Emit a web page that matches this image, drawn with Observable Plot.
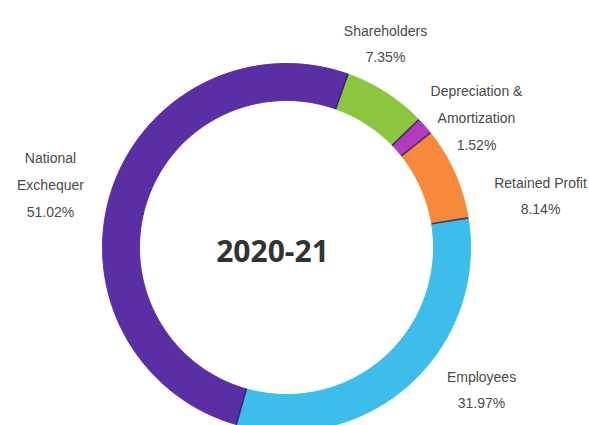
<!DOCTYPE html>
<html>
<head>
<meta charset="utf-8">
<script src="https://cdn.jsdelivr.net/npm/d3@7"></script>
<script src="https://cdn.jsdelivr.net/npm/@observablehq/plot@0.6"></script>
<style>
  html, body { margin: 0; padding: 0; background: #ffffff; }
  #chart svg { display: block; }
</style>
</head>
<body>
<div id="chart"></div>
<script>
// ---- data (clockwise order, starting just right of 12 o'clock) ----
const categories = ["Shareholders", "Depreciation & Amortization", "Retained Profit", "Employees", "National Exchequer"];
const shares = [7.35, 1.52, 8.14, 31.97, 51.02];
const labelLines = [["Shareholders"], ["Depreciation &", "Amortization"], ["Retained Profit"], ["Employees"], ["National", "Exchequer"]];
const centerTitle = "2020-21";

// ---- layout & style ----
const colors = ["#8cc63f", "#b13cbc", "#f7893b", "#3cbdea", "#5a2fa5"];
const W = 589, H = 425;
const cx = 286, cy = 247, R = 184, innerRatio = 147 / 184;
const startDeg = 19.5;
// label block centres in pixels (layout only)
const labelPx = [[385, 40], [476, 114], [540, 192], [481, 386], [50, 181]];
const titlePx = [272, 252];

const rows = categories.map((c, i) => ({cat: c, value: shares[i], lines: labelLines[i]}));

const start = startDeg * Math.PI / 180;
const arcs = d3.pie().sort(null).value(d => d.value).startAngle(start).endAngle(start + 2 * Math.PI)(rows);

// polygon points for each ring slice
const ringPts = [];
for (const a of arcs) {
  const n = Math.max(2, Math.ceil((a.endAngle - a.startAngle) / (Math.PI / 180)) + 1);
  for (let k = 0; k < n; k++) {
    const t = a.startAngle + (a.endAngle - a.startAngle) * k / (n - 1);
    ringPts.push({cat: a.data.cat, x: Math.sin(t), y: Math.cos(t)});
  }
  for (let k = n - 1; k >= 0; k--) {
    const t = a.startAngle + (a.endAngle - a.startAngle) * k / (n - 1);
    ringPts.push({cat: a.data.cat, x: innerRatio * Math.sin(t), y: innerRatio * Math.cos(t)});
  }
}
const seps = arcs.map(a => ({a: a.startAngle}));

const labels = rows.map((d, i) => ({
  text: d.lines.join("\n") + "\n" + d.value.toFixed(2) + "%",
  x: (labelPx[i][0] - cx) / R,
  y: (cy - labelPx[i][1]) / R
}));

const chart = Plot.plot({
  width: W, height: H,
  marginTop: 0, marginRight: 0, marginBottom: 0, marginLeft: 0,
  x: {domain: [-cx / R, (W - cx) / R], axis: null},
  y: {domain: [(cy - H) / R, cy / R], axis: null},
  color: {domain: categories, range: colors},
  style: {background: "transparent"},
  marks: [
    Plot.line(ringPts, {x: "x", y: "y", z: "cat", fill: "cat", stroke: "cat", strokeWidth: 1, curve: "linear"}),
    Plot.link(seps, {
      x1: d => innerRatio * Math.sin(d.a), y1: d => innerRatio * Math.cos(d.a),
      x2: d => Math.sin(d.a), y2: d => Math.cos(d.a),
      stroke: "#2b1d5c", strokeOpacity: 0.8, strokeWidth: 1.6
    }),
    Plot.text(labels, {
      x: "x", y: "y", text: "text", lineHeight: 1.9,
      fontSize: 14, fill: "#4a4a4a",
      fontFamily: "'Liberation Sans', Arial, sans-serif"
    }),
    Plot.text([centerTitle], {
      x: () => (titlePx[0] - cx) / R, y: () => (cy - titlePx[1]) / R, text: d => d,
      fontSize: 30, fontWeight: 700, fill: "#333333",
      fontFamily: "'Open Sans', sans-serif"
    })
  ]
});
document.getElementById("chart").appendChild(chart);
</script>
</body>
</html>
